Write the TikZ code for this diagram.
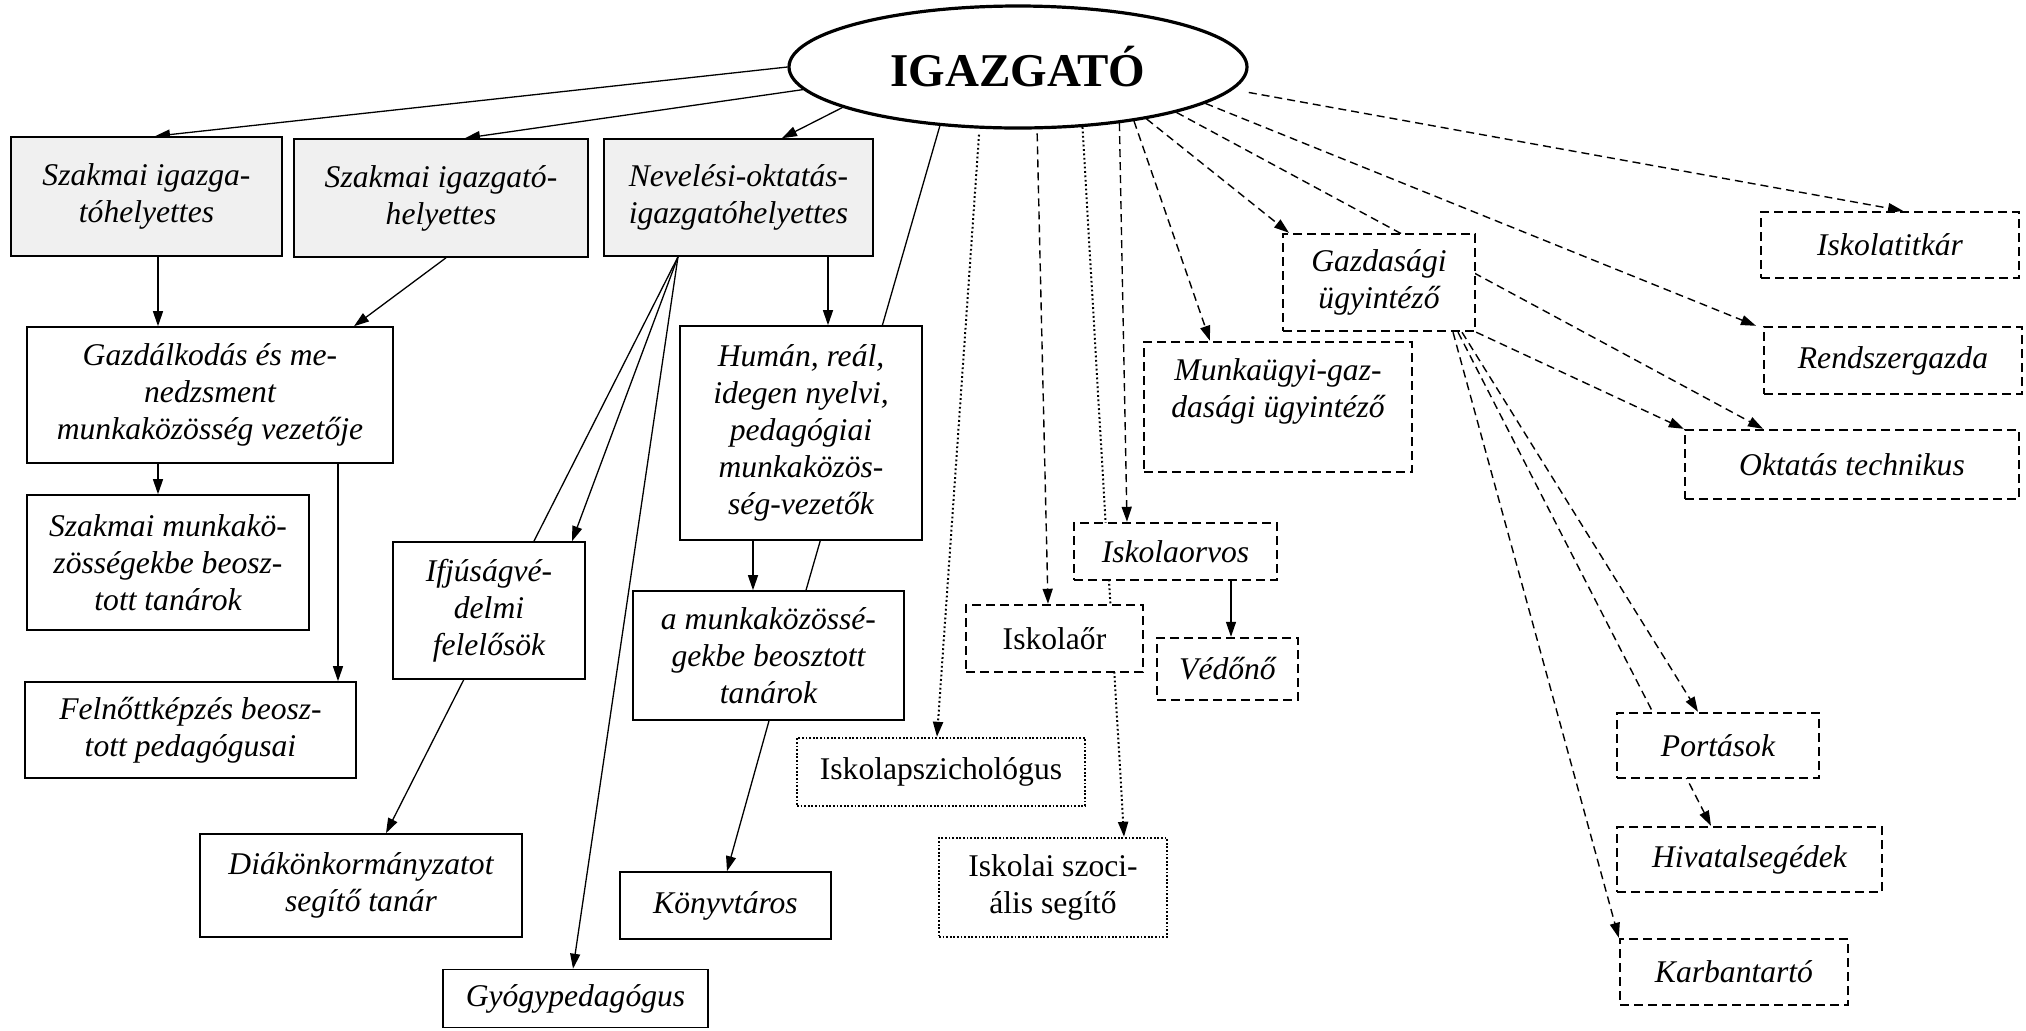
\documentclass[tikz,border=0pt]{standalone}
\usepackage{fontspec}
\setmainfont{Liberation Serif}
\usetikzlibrary{arrows.meta,shapes.geometric,backgrounds}
\definecolor{lg}{HTML}{F0F0F0}
\begin{document}
\begin{tikzpicture}[x=0.5pt,y=-0.5pt,
  txt/.style={font=\fontsize{15.8}{18.5}\selectfont\itshape, align=center, inner sep=1pt},
  box/.style={txt, draw, line width=0.8pt, fill=white},
  gbox/.style={box, fill=lg},
  dbox/.style={txt, draw, fill=white, line width=1.2pt, dash pattern=on 4.5pt off 2.5pt},
  obox/.style={txt, draw, fill=white, line width=1.2pt, dash pattern=on 0.9pt off 0.9pt},
  up/.style={font=\fontsize{15.8}{18.5}\selectfont\upshape},
  conn/.style={line width=0.65pt, -{Triangle[length=7.5pt,width=5pt]}},
  plain/.style={line width=0.65pt},
  dconn/.style={conn, line width=0.7pt, dash pattern=on 4pt off 2.5pt},
  oconn/.style={conn, line width=1pt, dash pattern=on 0.9pt off 1.3pt},
  ell/.style={ellipse, draw, line width=1.6pt, fill=white, minimum width=229pt, minimum height=61pt, inner sep=0pt, font=\fontsize{23.5}{28}\selectfont\bfseries}
]
\useasboundingbox (0,0) rectangle (2026,1030);

\node[ell] (ig) at (1018,67) {IGAZGATÓ};

\node[gbox, minimum width=135.5pt, minimum height=59.5pt] (A) at (146.5,196.5) {Szakmai igazga-\\tóhelyettes};
\node[gbox, minimum width=147pt, minimum height=59pt] (B) at (441,198) {Szakmai igazgató-\\helyettes};
\node[gbox, minimum width=134.5pt, minimum height=58.5pt] (C) at (738.5,197.5) {Nevelési-oktatás-\\igazgatóhelyettes};
\node[box, minimum width=183pt, minimum height=68pt] (D) at (210,395) {Gazdálkodás és me-\\nedzsment\\munkaközösség vezetője};
\node[box, minimum width=121pt, minimum height=107pt] (E) at (801,433) {Humán, reál,\\idegen nyelvi,\\pedagógiai\\munkaközös-\\ség-vezetők};
\node[box, minimum width=141pt, minimum height=67.5pt] (F) at (168,562.5) {Szakmai munkakö-\\zösségekbe beosz-\\tott tanárok};
\node[box, minimum width=165.5pt, minimum height=48pt] (G) at (190.5,730) {Felnőttképzés beosz-\\tott pedagógusai};
\node[box, minimum width=96pt, minimum height=68.5pt] (H) at (489,610.5) {Ifjúságvé-\\delmi\\felelősök};
\node[box, minimum width=135.5pt, minimum height=64.5pt] (I) at (768.5,655.5) {a munkaközössé-\\gekbe beosztott\\tanárok};
\node[box, minimum width=161pt, minimum height=51.5pt] (J) at (361,885.5) {Diákönkormányzatot\\segítő tanár};
\node[box, minimum width=105.5pt, minimum height=33.5pt] (K) at (725.5,905.5) {Könyvtáros};
\node[box, minimum width=132.5pt, minimum height=29pt] (L) at (575.5,998.5) {Gyógypedagógus};

\node[obox, up, minimum width=144pt, minimum height=34pt] (M) at (941,772) {Iskolapszichológus};
\node[obox, up, minimum width=114pt, minimum height=49.5pt] (N) at (1053,887.5) {Iskolai szoci-\\ális segítő};
\node[dbox, up, minimum width=88.5pt, minimum height=33.5pt] (O) at (1054.5,638.5) {Iskolaőr};
\node[dbox, minimum width=101.5pt, minimum height=28.5pt] (P) at (1175.5,551.5) {Iskolaorvos};
\node[dbox, minimum width=70.5pt, minimum height=31pt] (Q) at (1227.5,669) {Védőnő};
\node[dbox, minimum width=134pt, minimum height=65pt] (R) at (1278,407) {Munkaügyi-gaz-\\dasági ügyintéző\\~};
\node[dbox, minimum width=96pt, minimum height=48.5pt] (S) at (1379,282.5) {Gazdasági\\ügyintéző};
\node[dbox, minimum width=129pt, minimum height=33pt] (T) at (1890,245) {Iskolatitkár};
\node[dbox, minimum width=129pt, minimum height=33.5pt] (U) at (1893,360.5) {Rendszergazda};
\node[dbox, minimum width=167pt, minimum height=34.5pt] (V) at (1852,464.5) {Oktatás technikus};
\node[dbox, minimum width=101pt, minimum height=32.5pt] (W) at (1718,745.5) {Portások};
\node[dbox, minimum width=132.5pt, minimum height=32.5pt] (X) at (1749.5,859.5) {Hivatalsegédek};
\node[dbox, minimum width=114pt, minimum height=33pt] (Y) at (1734,972) {Karbantartó};

\begin{pgfonlayer}{background}
% solid connectors
\draw[conn] (ig.180) -- (A.north -| 155,0);
\draw[conn] (ig.186) -- (B.north -| 465,0);
\draw[conn] (ig.193.6) -- (C.north -| 782,0);
\draw[plain] (ig.217.9) -- (I.north -| 806,0);
\draw[conn] (A.south -| 158,0) -- (D.north -| 158,0);
\draw[conn] (B.south -| 446,0) -- (D.north -| 354,0);
\draw[conn] (C.south -| 828,0) -- (E.north -| 828,0);
\draw[conn] (D.south -| 158,0) -- (F.north -| 158,0);
\draw[conn] (D.south -| 338,0) -- (G.north -| 338,0);
\draw[conn] (C.south -| 678,0) -- (H.north -| 572,0);
\draw[conn] (C.south -| 678,0) -- (J.north -| 386,0);
\draw[conn] (C.south -| 678,0) -- (L.north -| 573,0);
\draw[conn] (E.south -| 753,0) -- (I.north -| 753,0);
\draw[conn] (I.south -| 769,0) -- (K.north -| 727,0);
\draw[conn] (P.south -| 1231,0) -- (Q.north -| 1231,0);
% dotted connectors
\draw[oconn, shorten <=3pt] (ig.238.3) -- (M.north -| 937,0);
\draw[oconn] (ig.317.1) -- (N.north -| 1124,0);
% dashed connectors
\draw[dconn, shorten <=2pt] (ig.287.3) -- (O.north -| 1048,0);
\draw[dconn] (ig.331.8) -- (P.north -| 1127,0);
\draw[dconn] (ig.335.1) -- (R.north -| 1210,0);
\draw[dconn] (ig.338.4) -- (S.north -| 1289,0);
\draw[dconn] (ig.344.8) -- (V.north -| 1763,0);
\draw[dconn] (ig.349.7) -- (U.north -| 1756,0);
\draw[dconn, shorten <=8pt] (ig.354.6) -- (T.north -| 1903,0);
\draw[dconn] (S.south east) -- (V.north west);
\draw[dconn] (S.south -| 1462,0) -- (W.north -| 1698,0);
\draw[dconn] (S.south -| 1458,0) -- (X.north -| 1711,0);
\draw[dconn] (S.south -| 1453,0) -- (Y.north west);
\end{pgfonlayer}
\end{tikzpicture}
\end{document}
